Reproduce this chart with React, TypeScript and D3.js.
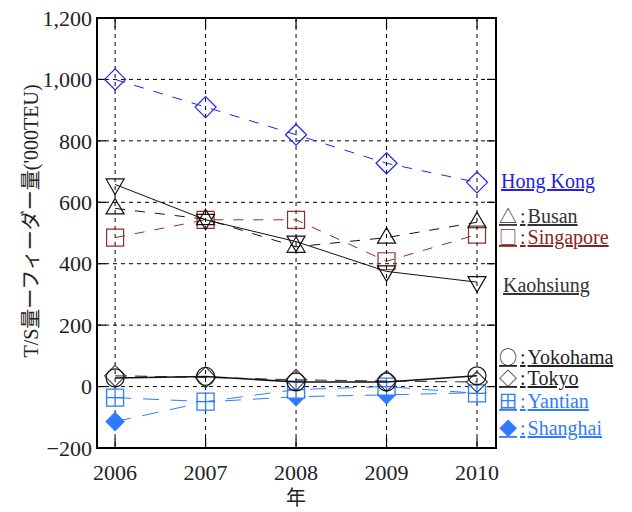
import React from "react";
import * as d3 from "d3";

// Years on the horizontal axis
const years = [2006, 2007, 2008, 2009, 2010];
// Y-axis tick values ('000 TEU)
const yTicks = [-200, 0, 200, 400, 600, 800, 1000, 1200];

// Series values (T/S volume minus feeder volume, '000 TEU)
const hongKong = [1000, 910, 820, 727, 665];
const kaohsiung = [658, 543, 472, 375, 340];
const busan = [580, 545, 455, 485, 535];
const singapore = [485, 543, 543, 408, 495];
const yokohama = [28, 33, 15, 15, 35];
const tokyo = [35, 30, 22, 18, 15];
const yantian = [-36, -49, -10, 0, -22];
const shanghai = [-114, -50, -33, -27, -20];

type Marker = "diamond" | "down" | "up" | "square" | "circle" | "grid" | "filledDiamond";

interface Series {
  name: string;
  values: number[];
  color: string;
  dash: string | null;
  width: number;
  marker: Marker;
}

const series: Series[] = [
  { name: "Shanghai", values: shanghai, color: "#2f7bff", dash: "16,12", width: 1, marker: "filledDiamond" },
  { name: "Yantian", values: yantian, color: "#2f7bff", dash: "16,12", width: 1, marker: "grid" },
  { name: "Tokyo", values: tokyo, color: "#444", dash: "12,8", width: 1.2, marker: "diamond" },
  { name: "Yokohama", values: yokohama, color: "#111", dash: null, width: 1.6, marker: "circle" },
  { name: "Singapore", values: singapore, color: "#9a2a2a", dash: "10,10", width: 1, marker: "square" },
  { name: "Busan", values: busan, color: "#111", dash: "10,10", width: 1, marker: "up" },
  { name: "Kaohsiung", values: kaohsiung, color: "#111", dash: null, width: 1, marker: "down" },
  { name: "Hong Kong", values: hongKong, color: "#2222e6", dash: "10,10", width: 1, marker: "diamond" },
];

// Legend entries beside the plot (symbol, name)
const legend = [
  { symbol: "", name: "Hong Kong", color: "#2222e6", x: 501, y: 188 },
  { symbol: "△", name: "Busan", color: "#333", x: 499, y: 223 },
  { symbol: "□", name: "Singapore", color: "#8b1f1f", x: 499, y: 244 },
  { symbol: "", name: "Kaohsiung", color: "#333", x: 503, y: 292 },
  { symbol: "○", name: "Yokohama", color: "#222", x: 499, y: 364 },
  { symbol: "◇", name: "Tokyo", color: "#222", x: 499, y: 385 },
  { symbol: "田", name: "Yantian", color: "#2f7bff", x: 499, y: 408 },
  { symbol: "◆", name: "Shanghai", color: "#2f7bff", x: 499, y: 435 },
];

const W = 632;
const H = 512;
const left = 97;
const right = 496;
const top = 18;
const bottom = 448;

const x = d3.scaleLinear().domain([2005.8, 2010.21]).range([left, right]);
const y = d3.scaleLinear().domain([-200, 1200]).range([bottom, top]);

const serif = "'Liberation Serif', 'Times New Roman', 'Noto Sans CJK JP', serif";
const cjk = "'Noto Sans CJK JP', sans-serif";

function markerPath(m: Marker, cx: number, cy: number): string {
  switch (m) {
    case "diamond": {
      const r = 10.5;
      return `M${cx},${cy - r}L${cx + r},${cy}L${cx},${cy + r}L${cx - r},${cy}Z`;
    }
    case "filledDiamond": {
      const r = 9;
      return `M${cx},${cy - r}L${cx + r},${cy}L${cx},${cy + r}L${cx - r},${cy}Z`;
    }
    case "up":
      return `M${cx},${cy - 10}L${cx + 9},${cy + 5.5}L${cx - 9},${cy + 5.5}Z`;
    case "down":
      return `M${cx},${cy + 10}L${cx + 9},${cy - 5.5}L${cx - 9},${cy - 5.5}Z`;
    default: {
      const s = 8.5;
      return `M${cx - s},${cy - s}H${cx + s}V${cy + s}H${cx - s}Z`;
    }
  }
}

function MarkerShape({ s, cx, cy }: { s: Series; cx: number; cy: number }) {
  if (s.marker === "circle") {
    return <circle cx={cx} cy={cy} r={9} fill="none" stroke={s.color} strokeWidth={1.2} />;
  }
  if (s.marker === "grid") {
    const g = 8.5;
    return (
      <g stroke={s.color} strokeWidth={1.3}>
        <path d={markerPath("grid", cx, cy)} fill="white" />
        <line x1={cx} x2={cx} y1={cy - g} y2={cy + g} />
        <line x1={cx - g} x2={cx + g} y1={cy} y2={cy} />
      </g>
    );
  }
  const filled = s.marker === "filledDiamond";
  return (
    <path
      d={markerPath(s.marker, cx, cy)}
      fill={filled ? s.color : "none"}
      stroke={s.color}
      strokeWidth={1.2}
    />
  );
}

export default function App() {
  const line = d3
    .line<number>()
    .x((_, i) => x(years[i]))
    .y((v) => y(v));

  return (
    <svg
      width={W}
      height={H}
      viewBox={`0 0 ${W} ${H}`}
      style={{ position: "absolute", left: 0, top: 0, background: "white" }}
    >
      <rect x={0} y={0} width={W} height={H} fill="white" />

      {/* dashed grid */}
      <g stroke="#000" strokeWidth={1} strokeDasharray="4,4">
        {yTicks
          .filter((t) => t > -200 && t < 1200)
          .map((t) => (
            <line key={`gy${t}`} x1={left} x2={right} y1={y(t)} y2={y(t)} />
          ))}
        {years.map((yr) => (
          <line key={`gx${yr}`} x1={x(yr)} x2={x(yr)} y1={top} y2={bottom} />
        ))}
      </g>

      {/* inward ticks */}
      <g stroke="#000" strokeWidth={1.2}>
        {yTicks.map((t) => (
          <g key={`ty${t}`}>
            <line x1={left} x2={left + 9} y1={y(t)} y2={y(t)} />
            <line x1={right - 9} x2={right} y1={y(t)} y2={y(t)} />
          </g>
        ))}
        {years.map((yr) => (
          <g key={`tx${yr}`}>
            <line x1={x(yr)} x2={x(yr)} y1={bottom} y2={bottom - 10} />
            <line x1={x(yr)} x2={x(yr)} y1={top} y2={top + 10} />
          </g>
        ))}
      </g>

      {/* series */}
      {series.map((s) => (
        <g key={s.name}>
          {s.values.map((v, i) => (
            <MarkerShape key={i} s={s} cx={x(years[i])} cy={y(v)} />
          ))}
          <path
            d={line(s.values) as string}
            fill="none"
            stroke={s.color}
            strokeWidth={s.width}
            strokeDasharray={s.dash ?? undefined}
          />
        </g>
      ))}

      {/* frame */}
      <rect
        x={left}
        y={top}
        width={right - left}
        height={bottom - top}
        fill="none"
        stroke="#000"
        strokeWidth={2}
      />

      {/* tick labels */}
      <g fontFamily={serif} fontSize={22} fill="#222">
        {yTicks.map((t) => (
          <text key={`ly${t}`} x={left - 5} y={y(t)} dy="0.35em" textAnchor="end">
            {t < 0 ? "−" + d3.format(",")(-t) : d3.format(",")(t)}
          </text>
        ))}
        {years.map((yr) => (
          <text key={`lx${yr}`} x={x(yr)} y={480} textAnchor="middle">
            {yr}
          </text>
        ))}
      </g>

      {/* axis titles */}
      <text x={x(2008)} y={505} textAnchor="middle" fontFamily={serif} fontSize={20} fill="#222">
        年
      </text>
      <text
        transform="translate(38,221) rotate(-90)"
        textAnchor="middle"
        fontFamily={serif}
        fontSize={20}
        fill="#222"
      >
        T/S量ーフィーダー量('000TEU)
      </text>

      {/* legend */}
      <g fontFamily={serif} fontSize={20}>
        {legend.map((l) => (
          <text key={l.name} x={l.x} y={l.y} fill={l.color} style={{ textDecoration: "underline" }}>
            {l.symbol ? (
              <>
                <tspan fontFamily={cjk} fontSize={18}>{l.symbol}</tspan>
                <tspan dx={3}>:</tspan>
                <tspan dx={2}>{l.name}</tspan>
              </>
            ) : (
              l.name
            )}
          </text>
        ))}
      </g>
    </svg>
  );
}
